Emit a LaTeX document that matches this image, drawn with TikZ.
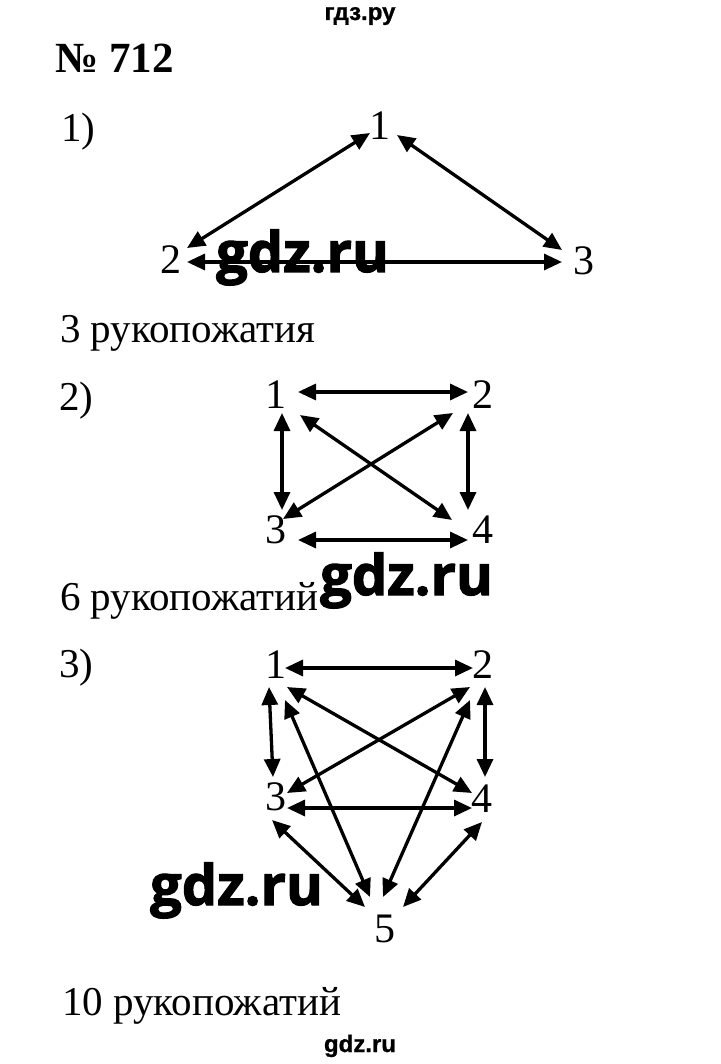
\documentclass[tikz,border=0pt]{standalone}
\usepackage{fontspec}
\setmainfont{Liberation Serif}
\newfontfamily\wmfont[FakeBold=2]{Open Sans}
\newfontfamily\smallwm[FakeBold=1]{Liberation Sans}
\usetikzlibrary{arrows.meta}
\tikzset{
  lbl/.style={inner sep=0pt, anchor=base, font=\fontsize{42}{42}\selectfont},
  txt/.style={inner sep=0pt, anchor=base west, font=\fontsize{41}{41}\selectfont},
  link/.style={line width=3.3pt, {Triangle[length=18pt,width=16pt]}-{Triangle[length=18pt,width=16pt]}},
  bigwm/.style={inner sep=0pt, anchor=base west, font=\wmfont\bfseries\fontsize{56}{56}\selectfont},
  smallmark/.style={inner sep=0pt, anchor=base, font=\smallwm\bfseries\fontsize{24}{24}\selectfont}
}
\newcommand\linkab[4]{\draw[link] ([shift={#2}]#1.base) -- ([shift={#4}]#3.base);}
\begin{document}
\begin{tikzpicture}[x=1pt,y=-1pt]
\useasboundingbox[fill=white] (0,0) rectangle (720,1064);
% headings
\node[smallmark] (top) at (360,20) {гдз.ру};
\node[txt, font=\bfseries\fontsize{43}{43}\selectfont] (title) at (55,73) {№ 712};
% part 1
\node[txt] (p1) at (61,142) {1)};
\node[lbl] (a1) at (380,140) {1};
\node[lbl] (a2) at (171,274) {2};
\node[lbl] (a3) at (584,275) {3};
\linkab{a1}{(-10,-7)}{a2}{(16,-26)}
\linkab{a1}{(17,-5)}{a3}{(-22,-25)}
\linkab{a2}{(16,-12)}{a3}{(-22,-13)}
\node[txt] (r1) at (60,342) {3 рукопожатия};
% part 2
\node[txt] (p2) at (59,410) {2)};
\node[lbl] (b1) at (276,408) {1};
\node[lbl] (b2) at (483,408) {2};
\node[lbl] (b3) at (276,543) {3};
\node[lbl] (b4) at (483,543) {4};
\linkab{b1}{(22,-16)}{b2}{(-15,-16)}
\linkab{b3}{(22,-3)}{b4}{(-15,-3)}
\linkab{b1}{(6,5)}{b3}{(6,-33)}
\linkab{b2}{(-15,5)}{b4}{(-15,-33)}
\linkab{b1}{(24,7)}{b4}{(-31,-23)}
\linkab{b2}{(-30,5)}{b3}{(7,-24)}
\node[txt] (r2) at (60,610) {6 рукопожатий};
% part 3
\node[txt] (p3) at (59,677) {3)};
\node[lbl] (c1) at (276,678) {1};
\node[lbl] (c2) at (483,678) {2};
\node[lbl] (c3) at (276,810) {3};
\node[lbl] (c4) at (482,812) {4};
\node[lbl] (c5) at (385,942) {5};
\linkab{c1}{(9,-10)}{c2}{(-10,-10)}
\linkab{c1}{(-7,9)}{c3}{(-3,-33)}
\linkab{c2}{(2,9)}{c4}{(3,-35)}
\linkab{c1}{(11,9)}{c4}{(-10,-19)}
\linkab{c2}{(-13,9)}{c3}{(11,-17)}
\linkab{c3}{(11,-2)}{c4}{(-10,-4)}
\linkab{c1}{(9,22)}{c5}{(-15,-45)}
\linkab{c2}{(-13,22)}{c5}{(-2,-45)}
\linkab{c3}{(-4,10)}{c5}{(-20,-35)}
\linkab{c4}{(0,10)}{c5}{(18,-35)}
\node[txt] (r3) at (62,1015) {10 рукопожатий};
% watermarks
\node[bigwm] (w1) at (216,272) {gdz.ru};
\node[bigwm] (w2) at (320,595) {gdz.ru};
\node[bigwm] (w3) at (150,905) {gdz.ru};
\node[smallmark] (bot) at (360,1052) {gdz.ru};
\end{tikzpicture}
\end{document}
